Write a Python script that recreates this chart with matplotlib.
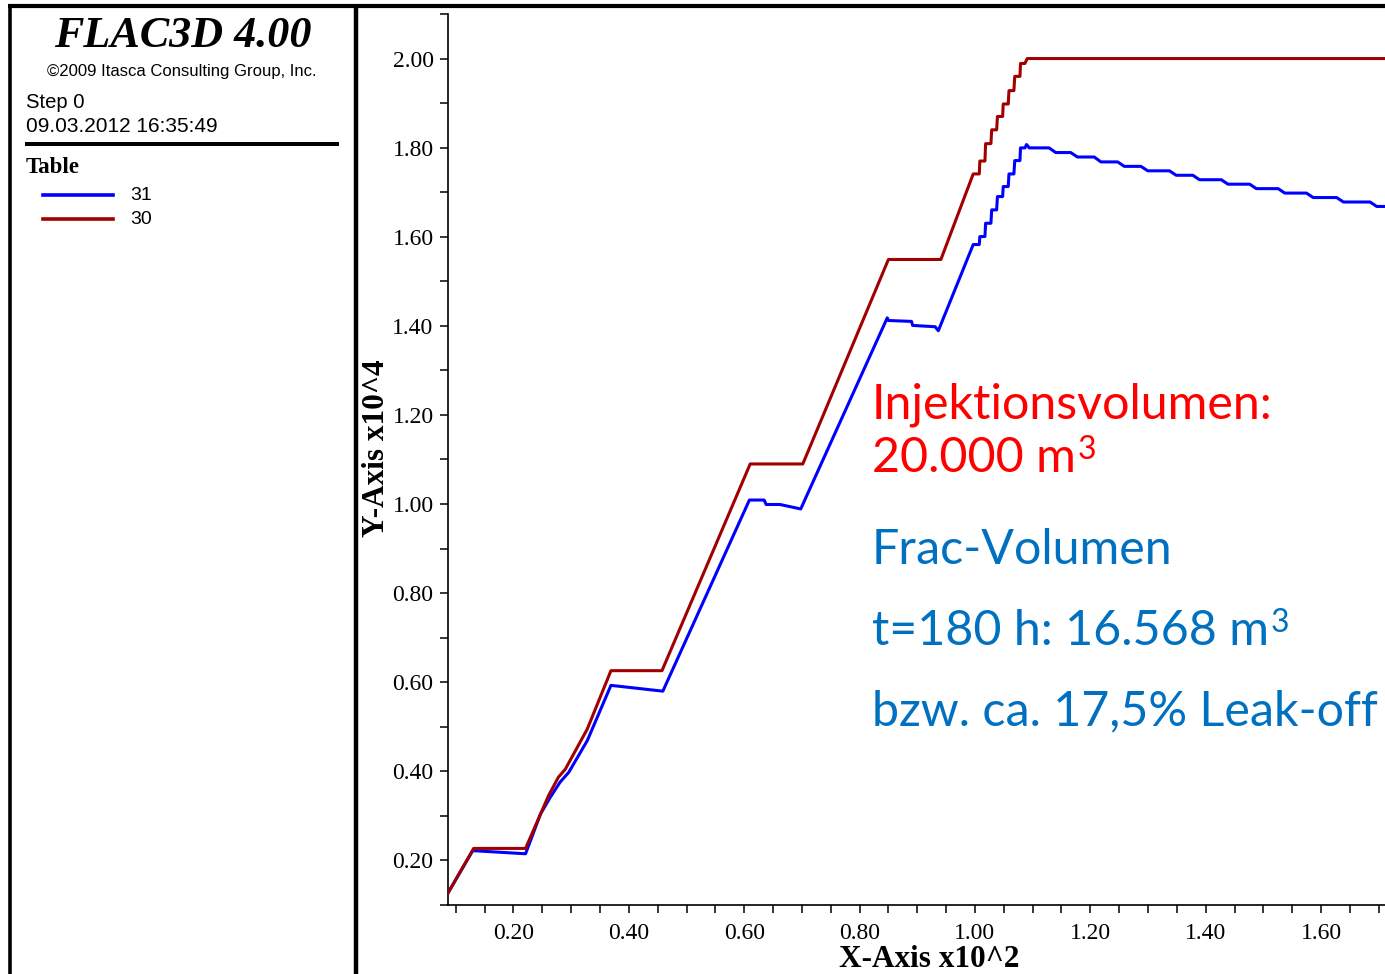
import matplotlib
matplotlib.use("Agg")
import matplotlib.pyplot as plt
from matplotlib.lines import Line2D
from matplotlib.ticker import MultipleLocator, FormatStrFormatter

# Table 30: injected volume (x10^4 m3) over time (x10^2 h)
red_x = [0.0857, 0.131, 0.221, 0.261, 0.278, 0.290, 0.328, 0.369, 0.4575, 0.6104,
         0.7016, 0.850, 0.941, 0.997, 1.0075, 1.0085, 1.0173, 1.0185, 1.0277, 1.029,
         1.0376, 1.039, 1.048, 1.049, 1.0577, 1.059, 1.0675, 1.069, 1.078, 1.079,
         1.0866, 1.0906, 1.72]
red_y = [0.125, 0.227, 0.227, 0.346, 0.387, 0.405, 0.495, 0.626, 0.626, 1.090,
         1.090, 1.549, 1.549, 1.741, 1.741, 1.770, 1.770, 1.809, 1.809, 1.840,
         1.840, 1.870, 1.870, 1.898, 1.898, 1.928, 1.928, 1.960, 1.960, 1.989,
         1.989, 2.000, 2.000]

# Table 31: fracture volume (x10^4 m3) over time (x10^2 h)
blue_x = [0.0857, 0.1295, 0.221, 0.247, 0.264, 0.281, 0.296, 0.328, 0.369, 0.459,
          0.609, 0.6346, 0.638, 0.662, 0.698, 0.848, 0.850, 0.890, 0.892, 0.931,
          0.9365, 0.997, 1.0075, 1.0085, 1.0173, 1.0185, 1.0277, 1.029, 1.0376, 1.039,
          1.048, 1.049, 1.0577, 1.059, 1.0675, 1.069, 1.078, 1.079, 1.0866, 1.0895,
          1.094, 1.1285, 1.140, 1.166, 1.1777, 1.2068, 1.2183, 1.2474, 1.2589, 1.2878,
          1.2995, 1.3372, 1.3488, 1.3777, 1.3893, 1.427, 1.4386, 1.4762, 1.4878, 1.5256,
          1.5371, 1.5747, 1.5863, 1.627, 1.6386, 1.6849, 1.6965, 1.72]
blue_y = [0.125, 0.222, 0.215, 0.3045, 0.342, 0.376, 0.398, 0.469, 0.593, 0.580,
          1.009, 1.009, 0.999, 0.999, 0.989, 1.418, 1.412, 1.410, 1.401, 1.398,
          1.389, 1.5825, 1.5825, 1.6004, 1.6004, 1.6303, 1.6303, 1.6603, 1.6603, 1.6902,
          1.6902, 1.7127, 1.7127, 1.741, 1.741, 1.771, 1.771, 1.7995, 1.7995, 1.807,
          1.7995, 1.7995, 1.789, 1.789, 1.779, 1.779, 1.768, 1.768, 1.758, 1.758,
          1.748, 1.748, 1.738, 1.738, 1.728, 1.728, 1.718, 1.718, 1.708, 1.708,
          1.698, 1.698, 1.688, 1.688, 1.678, 1.678, 1.668, 1.668]

legend_labels = ["31", "30"]
series_colors = ["#0000ff", "#a00000"]

W, H = 1385, 974
fig = plt.figure(figsize=(W / 100, H / 100), dpi=100)
fig.patch.set_facecolor("white")


def fx(px):
    return px / W


def fy(py):
    return 1 - py / H


SERIF = "Liberation Serif"
SANS = "Liberation Sans"
NOTE = "Lato"

# ---- plot area ----
ax = fig.add_axes([fx(447.5), fy(905), fx(1385) - fx(447.5), (905 - 14) / H])
ax.plot(blue_x, blue_y, color=series_colors[0], lw=2.2, zorder=3)
ax.plot(red_x, red_y, color=series_colors[1], lw=2.2, zorder=4)
ax.set_xlim(0.0857, 1.7108)
ax.set_ylim(0.1, 2.1)

ax.xaxis.set_major_locator(MultipleLocator(0.2))
ax.xaxis.set_minor_locator(MultipleLocator(0.05))
ax.yaxis.set_major_locator(MultipleLocator(0.2))
ax.yaxis.set_minor_locator(MultipleLocator(0.1))
ax.xaxis.set_major_formatter(FormatStrFormatter("%.2f"))
ax.yaxis.set_major_formatter(FormatStrFormatter("%.2f"))

for s in ("top", "right"):
    ax.spines[s].set_visible(False)
for s in ("left", "bottom"):
    ax.spines[s].set_linewidth(1.2)

ax.tick_params(axis="both", which="both", direction="out", length=6, width=1.1)
ax.tick_params(axis="x", which="major", pad=7)
ax.tick_params(axis="y", which="major", pad=4)
for lab in ax.get_xticklabels() + ax.get_yticklabels():
    lab.set_fontfamily(SERIF)
    lab.set_fontsize(17)

fig.text(fx(929), fy(967), "X-Axis x10^2", ha="center", va="baseline",
         family=SERIF, weight="bold", fontsize=22.5)
fig.text(fx(376), fy(448), "Y-Axis x10^4", ha="center", va="center",
         rotation=90, family=SERIF, weight="bold", fontsize=22.5)

# ---- annotations ----
red_txt = "#ff0000"
blue_txt = "#0070c0"
NOTE_SIZE = 34.8
fig.text(fx(872), fy(418.5), "Injektionsvolumen:", color=red_txt,
         family=NOTE, fontsize=NOTE_SIZE, va="baseline", ha="left")
t1 = fig.text(fx(872), fy(472), "20.000 m", color=red_txt,
              family=NOTE, fontsize=NOTE_SIZE, va="baseline", ha="left")
fig.text(fx(872), fy(564), "Frac-Volumen", color=blue_txt,
         family=NOTE, fontsize=NOTE_SIZE, va="baseline", ha="left")
t2 = fig.text(fx(872), fy(645), "t=180 h: 16.568 m", color=blue_txt,
              family=NOTE, fontsize=NOTE_SIZE, va="baseline", ha="left")
fig.text(fx(872), fy(725), "bzw. ca. 17,5% Leak-off", color=blue_txt,
         family=NOTE, fontsize=NOTE_SIZE, va="baseline", ha="left")
for t, c in ((t1, red_txt), (t2, blue_txt)):
    ax.annotate("3", xy=(1, 1), xycoords=t, xytext=(1.2, 0.5),
                textcoords="offset points", color=c, family=NOTE,
                fontsize=23, ha="left", va="top", annotation_clip=False)

# ---- title block ----
fig.text(fx(183), fy(46.7), "FLAC3D 4.00", ha="center", va="baseline",
         family=SERIF, weight="bold", style="italic", fontsize=31.8)
fig.text(fx(182), fy(76), "\u00a92009 Itasca Consulting Group, Inc.",
         ha="center", va="baseline", family=SANS, fontsize=12)
fig.text(fx(26), fy(108), "Step 0", ha="left", va="baseline",
         family=SANS, fontsize=14.6)
fig.text(fx(26), fy(132.3), "09.03.2012 16:35:49", ha="left", va="baseline",
         family=SANS, fontsize=15)
fig.text(fx(26), fy(173.3), "Table", ha="left", va="baseline",
         family=SERIF, weight="bold", fontsize=16.5)

legend_y = [195, 219]
for lab, col, yy in zip(legend_labels, series_colors, legend_y):
    fig.add_artist(Line2D([fx(43), fx(113)], [fy(yy), fy(yy)],
                          color=col, lw=2.6, transform=fig.transFigure))
    fig.text(fx(130), fy(yy + 5.3), lab, ha="left", va="baseline",
             family=SANS, fontsize=14)

# frame lines
frame = [
    ([8, 1385], [6, 6], 3.0),
    ([10, 10], [4, 974], 2.6),
    ([356, 356], [4, 974], 3.2),
    ([25, 339], [143.7, 143.7], 2.9),
]
for xs, ys, lw in frame:
    fig.add_artist(Line2D([fx(v) for v in xs], [fy(v) for v in ys],
                          color="black", lw=lw, transform=fig.transFigure,
                          solid_capstyle="butt"))

fig.savefig("out.png", dpi=100, facecolor="white")
